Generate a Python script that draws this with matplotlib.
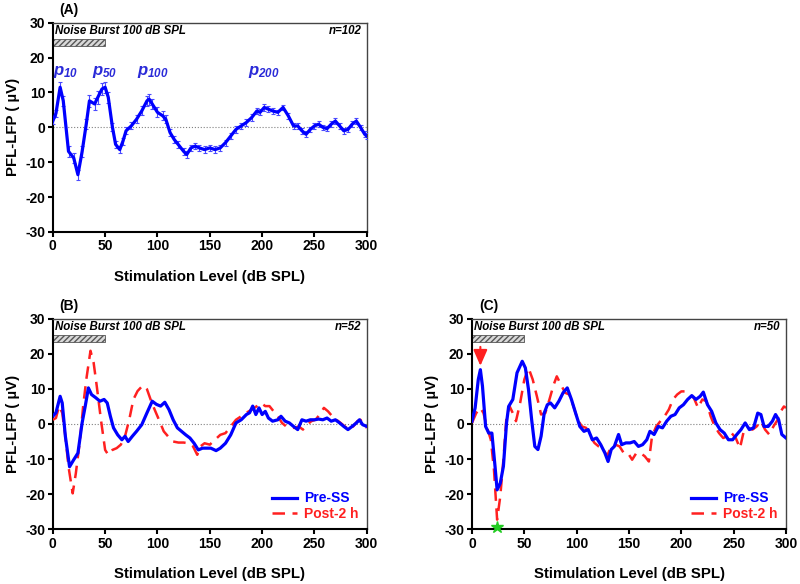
import matplotlib.pyplot as plt
import matplotlib
from matplotlib.patches import Rectangle

matplotlib.rcParams['font.family'] = ['Liberation Sans', 'DejaVu Sans']
matplotlib.rcParams['font.weight'] = 'bold'
matplotlib.rcParams['axes.unicode_minus'] = False
matplotlib.rcParams['mathtext.fontset'] = 'custom'
matplotlib.rcParams['mathtext.it'] = 'Liberation Sans:bold:italic'
matplotlib.rcParams['mathtext.rm'] = 'Liberation Sans:bold:italic'

# --- Panel A: grand average (n=102) ---
a_x = [0, 3, 7, 10, 15, 20, 24, 28, 32, 35, 40, 43, 47, 50, 53, 57, 60, 64, 67, 70,
       75, 80, 85, 90, 92, 95, 100, 105, 108, 112, 116, 120, 125, 128, 132, 136, 140,
       145, 150, 155, 160, 165, 170, 175, 180, 185, 190, 195, 198, 202, 206, 210, 215,
       220, 225, 230, 234, 238, 242, 246, 250, 254, 258, 262, 266, 270, 274, 278, 282,
       286, 290, 294, 298, 300]
a_y = [1.8, 4.0, 11.5, 7.6, -6.9, -8.8, -13.6, -7.0, 1.0, 7.6, 6.7, 8.6, 11.0, 11.5,
       8.6, 0.0, -4.9, -6.4, -4.0, -1.0, 0.4, 2.3, 4.7, 7.6, 8.1, 6.7, 4.3, 3.3, 2.3,
       -1.5, -3.5, -5.0, -6.9, -7.8, -5.9, -5.4, -5.9, -6.4, -5.9, -6.4, -5.9, -4.4,
       -2.5, -0.6, 0.4, 1.4, 2.8, 4.7, 4.3, 5.7, 5.2, 4.7, 4.3, 5.7, 3.3, 0.4, 0.4,
       -1.0, -2.0, -0.6, 0.4, 0.9, 0.0, -0.4, 0.9, 1.8, 0.4, -1.0, -0.6, 0.9, 1.8,
       0.0, -2.0, -2.5]
a_err = [0.8, 1.0, 1.6, 1.4, 1.5, 1.5, 1.4, 1.6, 1.4, 1.8, 1.8, 1.8, 1.8, 1.6, 1.5,
         1.2, 1.0, 1.0, 1.0, 1.0, 1.0, 1.1, 1.3, 1.5, 1.6, 1.5, 1.4, 1.3, 1.2, 1.1,
         1.0, 1.0, 1.0, 1.0, 0.9, 0.9, 0.9, 0.9, 0.9, 0.9, 0.9, 0.9, 0.9, 0.9, 0.9,
         0.9, 0.9, 0.9, 0.9, 0.9, 0.8, 0.8, 0.8, 0.8, 0.8, 0.8, 0.8, 0.8, 0.8, 0.8,
         0.8, 0.8, 0.8, 0.8, 0.8, 0.8, 0.8, 0.8, 0.8, 0.8, 0.8, 0.8, 0.8, 0.8]
peak_labels = [r'$p_{10}$', r'$p_{50}$', r'$p_{100}$', r'$p_{200}$']
peak_x = [12, 50, 96, 202]

# --- Panel B (n=52) ---
b_pre_x = [0, 3, 7, 9, 12, 16, 20, 24, 28, 31, 34, 37, 41, 45, 49, 52, 55, 58, 62, 66,
           69, 72, 76, 80, 85, 90, 95, 99, 103, 107, 111, 115, 119, 123, 127, 131, 135,
           139, 143, 147, 151, 156, 160, 165, 170, 175, 180, 185, 188, 191, 194, 197,
           200, 203, 206, 210, 215, 218, 222, 226, 230, 234, 238, 242, 246, 250, 254,
           258, 262, 266, 270, 274, 278, 282, 286, 290, 293, 296, 300]
b_pre_y = [2.2, 3.2, 7.9, 6.0, -3.5, -12.2, -10.2, -8.3, 0.3, 5.1, 10.3, 8.4, 7.5, 6.5,
           7.0, 6.0, 2.2, -1.1, -3.1, -4.5, -3.5, -5.0, -3.5, -2.1, -0.2, 3.2, 6.5, 5.6,
           5.1, 6.2, 4.1, 1.2, -1.1, -2.1, -3.1, -4.0, -5.5, -7.4, -6.9, -6.9, -6.9,
           -7.6, -6.9, -5.5, -3.1, 0.3, 1.2, 2.7, 3.2, 5.1, 2.7, 4.6, 2.7, 3.6, 1.7,
           0.8, 1.2, 2.2, 0.8, 0.3, -0.7, -1.6, 1.2, 0.8, 1.2, 1.2, 1.4, 1.2, 1.7, 0.8,
           1.2, 0.3, -0.7, -1.6, -0.7, 0.3, 1.2, -0.2, -0.7]
b_post_x = [0, 3, 6, 9, 12, 15, 19, 22, 26, 29, 32, 36, 39, 42, 46, 50, 53, 57, 61, 65,
            69, 73, 77, 81, 86, 90, 94, 98, 102, 106, 110, 115, 120, 125, 130, 134, 138,
            141, 145, 150, 155, 160, 165, 170, 175, 180, 185, 190, 195, 199, 203, 207,
            211, 215, 219, 223, 227, 231, 235, 239, 243, 247, 251, 255, 259, 263, 267,
            271, 275, 279, 283, 287, 291, 294, 297, 300]
b_post_y = [1.2, 1.7, 5.1, 3.2, -3.5, -12.2, -19.8, -14.1, -4.5, 5.1, 12.7, 20.9, 17.5,
            10.8, 1.2, -7.4, -8.8, -7.4, -6.9, -5.9, -3.5, 1.2, 7.0, 9.4, 11.0, 9.9, 6.5,
            3.6, 0.8, -2.1, -3.5, -5.0, -5.3, -5.3, -5.5, -6.4, -8.8, -6.4, -5.5, -5.9,
            -4.5, -3.1, -2.6, -0.7, 1.2, 2.2, 3.2, 4.1, 5.1, 6.0, 5.1, 5.1, 3.6, 2.2,
            0.3, -0.7, -1.1, -1.1, -0.7, -1.6, -0.2, 0.8, 1.2, 2.7, 4.6, 3.6, 2.2, 1.2,
            0.3, -0.7, -1.6, -0.7, 0.8, 1.2, -0.2, -1.1]

# --- Panel C (n=50) ---
c_pre_x = [0, 3, 6, 8, 10, 13, 16, 19, 22, 24, 27, 30, 33, 35, 39, 43, 48, 51, 54, 57,
           60, 63, 66, 69, 72, 75, 79, 83, 87, 91, 95, 99, 103, 107, 111, 115, 119, 123,
           127, 130, 133, 136, 140, 143, 147, 151, 155, 159, 163, 167, 170, 174, 178,
           182, 186, 190, 194, 198, 202, 206, 210, 214, 218, 221, 225, 229, 233, 237,
           241, 245, 249, 253, 257, 261, 265, 269, 273, 276, 279, 283, 287, 290, 293,
           296, 300]
c_pre_y = [0.8, 4.6, 12.7, 15.5, 10.8, -0.7, -2.6, -2.6, -12.1, -18.8, -16.9, -12.1, 0.3,
           5.0, 7.0, 14.6, 17.9, 16.0, 9.8, 1.2, -6.4, -7.3, -3.5, 3.1, 5.5, 6.0, 4.6,
           6.5, 8.9, 10.3, 7.0, 3.1, -0.7, -2.1, -1.6, -4.5, -4.0, -5.9, -8.3, -10.7,
           -7.3, -6.4, -3.0, -5.9, -5.4, -5.4, -5.0, -6.4, -5.9, -4.5, -2.1, -3.0, -0.7,
           -1.1, 0.8, 2.2, 2.7, 4.6, 5.5, 7.0, 8.1, 7.0, 7.9, 9.1, 5.5, 3.6, 0.3, -1.6,
           -2.6, -4.5, -4.5, -3.0, -1.6, 0.3, -1.6, -1.1, 3.1, 2.7, -0.7, -0.7, 0.8, 2.7,
           1.2, -3.0, -4.0]
c_post_x = [0, 4, 8, 11, 14, 18, 21, 24, 27, 30, 33, 36, 39, 42, 46, 50, 54, 58, 62, 66,
            70, 74, 78, 81, 85, 89, 93, 97, 101, 105, 109, 113, 117, 121, 125, 129, 133,
            137, 141, 145, 149, 153, 157, 161, 165, 169, 172, 176, 180, 184, 188, 192,
            196, 200, 204, 208, 212, 216, 220, 224, 228, 232, 236, 240, 244, 248, 252,
            256, 260, 264, 268, 272, 276, 280, 284, 288, 292, 295, 298, 300]
c_post_y = [0.3, 3.1, 4.6, 3.1, -0.7, -4.5, -13.1, -27.3, -20.7, -10.2, 2.2, 5.0, 3.1,
            0.8, 6.0, 12.7, 16.0, 12.7, 7.9, 2.7, 3.1, 7.0, 11.2, 13.6, 11.2, 8.9, 8.4,
            5.0, 1.2, -0.7, -1.1, -3.5, -5.4, -6.4, -6.9, -9.2, -6.4, -5.9, -6.4, -8.3,
            -8.3, -10.2, -8.3, -8.3, -9.2, -10.7, -3.5, -0.7, 0.8, 2.2, 4.1, 7.0, 8.4,
            9.3, 9.3, 8.4, 7.4, 4.6, 7.0, 6.5, 2.2, -0.7, -2.6, -4.0, -3.5, -2.6, -4.0,
            -6.9, -1.6, -1.1, -1.6, -0.7, 0.8, -1.6, -3.0, -0.7, 1.2, 3.6, 5.0, 4.6]

BLUE = '#0000ff'
RED = '#ff2020'


def style_axes(ax, n_text):
    ax.set_xlim(0, 300)
    ax.set_ylim(-30, 30)
    ax.set_xticks(range(0, 301, 50))
    ax.set_yticks(range(-30, 31, 10))
    ax.tick_params(direction='out', length=3.5, width=1.5, labelsize=10, pad=2)
    for lab in ax.get_xticklabels() + ax.get_yticklabels():
        lab.set_fontweight('bold')
    for side in ['left', 'bottom']:
        ax.spines[side].set_linewidth(1.5)
    for side in ['top', 'right']:
        ax.spines[side].set_linewidth(1.0)
        ax.spines[side].set_color('#444444')
    ax.axhline(0, color='gray', lw=0.8, ls=':', zorder=1)
    ax.add_patch(Rectangle((0, 23.4), 50, 1.9, facecolor='#d9d9d9',
                           edgecolor='#555555', hatch='//////', lw=0.6, zorder=2))
    ax.text(2, 27.6, 'Noise Burst 100 dB SPL', fontsize=8.3, style='italic',
            fontweight='bold', va='center', ha='left')
    ax.text(295, 27.6, n_text, fontsize=8.3, style='italic',
            fontweight='bold', va='center', ha='right')
    ax.set_xlabel('Stimulation Level (dB SPL)', fontsize=10.8, fontweight='bold', labelpad=12)
    ax.set_ylabel('PFL-LFP ( \u00b5V)', fontsize=10.8, fontweight='bold', labelpad=4)


fig = plt.figure(figsize=(8, 5.84), dpi=100)
axA = fig.add_axes([0.066, 0.603, 0.3925, 0.358])
axB = fig.add_axes([0.066, 0.094, 0.3925, 0.360])
axC = fig.add_axes([0.59, 0.094, 0.3925, 0.360])

# Panel A
style_axes(axA, 'n=102')
axA.errorbar(a_x, a_y, yerr=a_err, color=BLUE, lw=2.3, elinewidth=0.8,
             ecolor='#4a4aff', capsize=1.5, capthick=0.8, zorder=3)
for lab, px in zip(peak_labels, peak_x):
    axA.text(px, 15.8, lab, color='#2a2ad8', fontsize=12, ha='center', va='center')
axA.text(0.022, 1.03, '(A)', transform=axA.transAxes, fontsize=10, fontweight='bold',
         ha='left', va='bottom')

# Panel B
style_axes(axB, 'n=52')
axB.plot(b_pre_x, b_pre_y, color=BLUE, lw=2.3, label='Pre-SS', zorder=4)
axB.plot(b_post_x, b_post_y, color=RED, lw=1.8, ls=(0, (5, 3)), label='Post-2 h', zorder=3)
axB.text(0.022, 1.03, '(B)', transform=axB.transAxes, fontsize=10, fontweight='bold',
         ha='left', va='bottom')

# Panel C
style_axes(axC, 'n=50')
axC.plot(c_pre_x, c_pre_y, color=BLUE, lw=2.3, label='Pre-SS', zorder=4)
axC.plot(c_post_x, c_post_y, color=RED, lw=1.8, ls=(0, (5, 3)), label='Post-2 h', zorder=3)
axC.annotate('', xy=(8, 15.8), xytext=(8, 22.8),
             arrowprops=dict(arrowstyle='-|>,head_width=0.35,head_length=0.8',
                             color=RED, lw=1.5, mutation_scale=12),
             zorder=5)
axC.plot([24], [-29.3], marker='*', color='#22cc22', markersize=9, clip_on=False, zorder=6)
axC.text(0.022, 1.03, '(C)', transform=axC.transAxes, fontsize=10, fontweight='bold',
         ha='left', va='bottom')

for ax in (axB, axC):
    leg = ax.legend(loc='lower right', frameon=False, fontsize=10, handlelength=1.8,
                    handletextpad=0.5, borderaxespad=0.2, labelspacing=0.1)
    for txt, col in zip(leg.get_texts(), [BLUE, RED]):
        txt.set_color(col)
        txt.set_fontweight('bold')

plt.savefig('out.png', dpi=100)
